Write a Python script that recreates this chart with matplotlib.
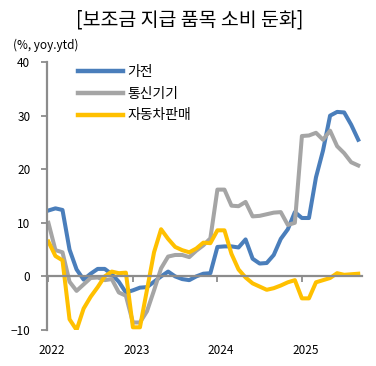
import matplotlib
matplotlib.use('Agg')
import matplotlib.pyplot as plt
from matplotlib.lines import Line2D

plt.rcParams['font.family'] = ['Noto Sans CJK KR', 'DejaVu Sans']

# monthly, Jan 2022 - Sep 2025
home_appliances = [12.3, 12.7, 12.4, 5.0, 1.3, -0.6, 0.5, 1.4, 1.4, 0.4, -1.0, -3.0,
                   -2.6, -2.1, -2.0, -1.0, 0.0, 0.9, 0.0, -0.5, -0.7, 0.0, 0.5, 0.6,
                   5.5, 5.6, 5.6, 5.4, 6.9, 3.3, 2.4, 2.5, 4.0, 7.0, 8.8, 12.0,
                   10.9, 10.9, 18.5, 23.5, 30.0, 30.7, 30.6, 28.3, 25.5]
telecom = [10.0, 4.9, 4.5, -1.0, -2.7, -1.5, -0.3, -0.2, -0.7, -0.5, -3.0, -3.6,
           -8.6, -8.6, -6.5, -2.6, 1.5, 3.7, 4.0, 4.0, 3.6, 4.8, 5.8, 7.1,
           16.2, 16.2, 13.2, 13.1, 13.9, 11.2, 11.3, 11.6, 11.9, 12.0, 9.6, 10.0,
           26.2, 26.3, 26.8, 25.5, 27.2, 24.3, 23.0, 21.3, 20.7]
car_sales = [6.5, 3.8, 3.0, -8.0, -10.0, -6.0, -3.8, -2.0, 0.0, 0.9, 0.6, 0.7,
             -9.5, -9.5, -2.5, 4.5, 8.8, 7.0, 5.5, 4.9, 4.5, 5.2, 6.3, 6.2,
             8.6, 8.6, 4.2, 1.3, -0.2, -1.3, -1.9, -2.5, -2.2, -1.7, -1.1, -0.7,
             -4.1, -4.1, -1.1, -0.7, -0.3, 0.6, 0.3, 0.4, 0.5]
series_names = ['가전', '통신기기', '자동차판매']
year_labels = ['2022', '2023', '2024', '2025']

colors = ['#4a7ebb', '#a5a5a5', '#ffc000']
axis_gray = '#8c8c8c'

fig = plt.figure(figsize=(3.76, 3.66), dpi=100)
ax = fig.add_axes([0.125, 0.0984, 0.839, 0.732])

months = list(range(len(home_appliances)))
for values, name, color in zip([home_appliances, telecom, car_sales], series_names, colors):
    ax.plot(months, values, color=color, linewidth=2.9, label=name, solid_joinstyle='round')

ax.set_xlim(-0.2, 44.6)
ax.set_ylim(-10, 40)
ax.set_yticks(range(-10, 41, 10))
ax.tick_params(axis='y', direction='out', length=4, width=1.3, color=axis_gray,
               labelsize=8.5, pad=8)

for side in ['top', 'right']:
    ax.spines[side].set_visible(False)
ax.spines['left'].set_color(axis_gray)
ax.spines['left'].set_linewidth(1.6)
ax.spines['bottom'].set_position(('data', 0))
ax.spines['bottom'].set_color(axis_gray)
ax.spines['bottom'].set_linewidth(1.6)

year_ticks = [12 * k for k in range(len(year_labels))]
ax.set_xticks(year_ticks)
ax.set_xticklabels([])
ax.tick_params(axis='x', direction='out', length=4, width=1.3, color=axis_gray)

sec = ax.secondary_xaxis('bottom')
sec.spines['bottom'].set_visible(False)
sec.set_xticks([t + 0.5 for t in year_ticks])
sec.set_xticklabels(year_labels)
sec.tick_params(axis='x', length=0, labelsize=8.5, pad=10)

handles = [Line2D([], [], color=c, linewidth=3.2) for c in colors]
ax.legend(handles, series_names, loc='upper left', bbox_to_anchor=(0.06, 1.035),
          frameon=False, fontsize=10, handlelength=3.2, handletextpad=0.3,
          labelspacing=0.55)

fig.text(0.505, 0.945, '[보조금 지급 품목 소비 둔화]', ha='center', va='center', fontsize=14)
fig.text(0.035, 0.877, '(%, yoy.ytd)', ha='left', va='center', fontsize=8.5)

fig.savefig('out.png', dpi=100)
